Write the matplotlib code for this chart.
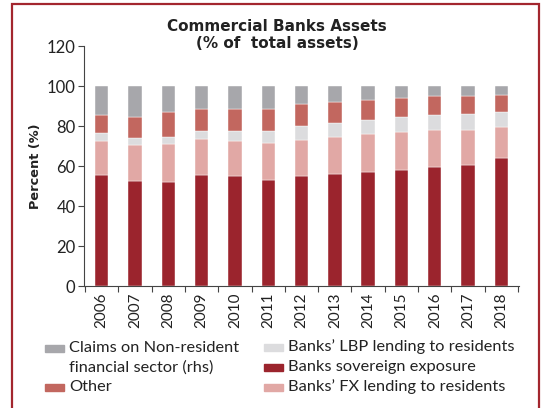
import numpy as np
import matplotlib.pyplot as plt
from matplotlib.patches import Rectangle

plt.rcParams['font.family'] = ['Lato', 'DejaVu Sans']

years = ['2006', '2007', '2008', '2009', '2010', '2011', '2012',
         '2013', '2014', '2015', '2016', '2017', '2018']
sovereign = [55.4, 52.7, 52.0, 55.7, 55.0, 53.2, 55.0, 56.2, 57.2, 58.2, 59.7, 60.7, 64.2]
fx_lending = [17.3, 18.0, 19.2, 18.0, 17.7, 18.4, 18.2, 18.5, 18.6, 18.6, 18.1, 17.1, 15.1]
lbp_lending = [3.6, 3.4, 3.5, 3.9, 4.9, 5.8, 6.6, 6.7, 7.1, 7.5, 7.7, 8.0, 7.5]
other = [9.0, 10.3, 12.1, 10.9, 10.7, 11.1, 11.0, 10.4, 10.1, 9.7, 9.5, 9.0, 8.7]
claims = [14.7, 15.6, 13.2, 11.5, 11.7, 11.5, 9.2, 8.2, 7.0, 6.0, 5.0, 5.2, 4.5]

c_sov = '#9b242d'
c_fx = '#e1a8a5'
c_lbp = '#dcdcde'
c_other = '#c2675f'
c_claims = '#a7a7ab'
border = '#a3262e'
txt = '#222222'
bold_font = ['DejaVu Sans']

fig = plt.figure(figsize=(5.41, 4.08), dpi=100)
ax = fig.add_axes([0.155, 0.299, 0.804, 0.588])

x = np.arange(len(years))
w = 0.4
bottom = np.zeros(len(years))
for vals, col in [(sovereign, c_sov), (fx_lending, c_fx), (lbp_lending, c_lbp),
                  (other, c_other), (claims, c_claims)]:
    ax.bar(x, vals, w, bottom=bottom, color=col, edgecolor='white', linewidth=0.3)
    bottom += np.array(vals)

ax.set_ylim(0, 120)
ax.set_yticks(range(0, 121, 20))
ax.set_xlim(-0.53, 12.52)
ax.set_xticks(x)
ax.set_xticklabels(years, rotation=90, fontsize=11, color=txt)
ax.set_xticks(np.arange(-0.5, 12.6, 1), minor=True)
ax.tick_params(axis='x', which='major', length=0, pad=5)
ax.tick_params(axis='x', which='minor', length=4, width=0.8, color='#444444')
ax.tick_params(axis='y', length=4, width=0.8, color='#444444', labelsize=12,
               labelcolor=txt, pad=2)
for s in ['top', 'right']:
    ax.spines[s].set_visible(False)
for s in ['left', 'bottom']:
    ax.spines[s].set_linewidth(0.8)
    ax.spines[s].set_color('#444444')
ax.set_ylabel('Percent (%)', fontsize=9.3, fontweight='bold', labelpad=3,
              family=bold_font, color=txt)

fig.text(0.512, 0.934, 'Commercial Banks Assets', ha='center', va='center',
         fontsize=11, fontweight='bold', color=txt, family=bold_font)
fig.text(0.512, 0.894, '(% of  total assets)', ha='center', va='center',
         fontsize=11, fontweight='bold', color=txt, family=bold_font)

# legend drawn by hand: two columns, first entry wraps onto two lines
H = 408.0
Wf = 541.0
def legend_item(xh, yc, col, label):
    fig.add_artist(Rectangle((xh / Wf, 1 - (yc + 3.5) / H), 19 / Wf, 7 / H,
                             transform=fig.transFigure, color=col))
    fig.text((xh + 24) / Wf, 1 - yc / H, label, ha='left', va='center',
             fontsize=11.8, color=txt)

legend_item(45, 348, c_claims, 'Claims on Non-resident')
fig.text(69 / Wf, 1 - 368 / H, 'financial sector (rhs)', ha='left', va='center',
         fontsize=11.8, color=txt)
legend_item(45, 387, c_other, 'Other')
legend_item(264, 347, c_lbp, 'Banks\u2019 LBP lending to residents')
legend_item(264, 367, c_sov, 'Banks sovereign exposure')
legend_item(264, 387, c_fx, 'Banks\u2019 FX lending to residents')

# red frame around the panel (open at the bottom)
fig.add_artist(Rectangle((11.5 / Wf, -0.05), (539 - 11.5) / Wf, 1.05 - 4.5 / H,
                         transform=fig.transFigure, fill=False,
                         edgecolor=border, linewidth=1.6))

fig.savefig('out.png', dpi=100)
